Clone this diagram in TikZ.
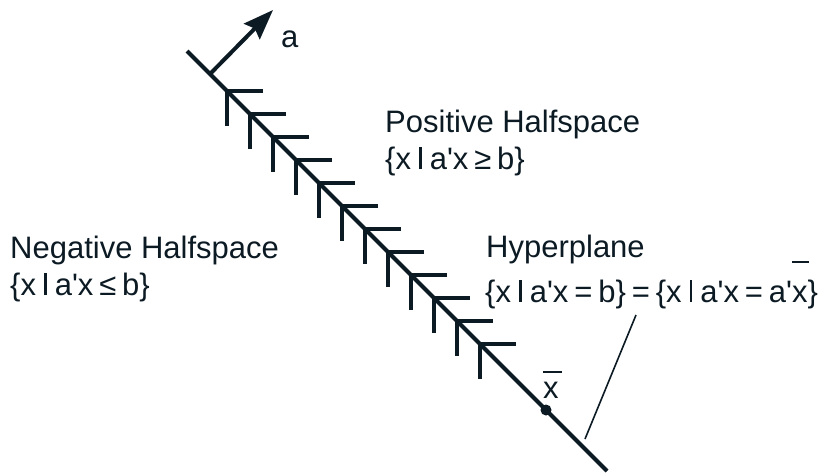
\documentclass[tikz,border=0pt]{standalone}
\usepackage{fontspec}
\setmainfont{Liberation Sans}
\usetikzlibrary{arrows.meta}
\definecolor{ink}{RGB}{12,26,36}
\newcommand\pr{\textquotesingle}
\newcommand\sg{\hspace{0.19em}}
\newcommand\vb{\hspace{0.07em}\rule{0.085em}{0.72em}\hspace{0.07em}}
\newcommand\barhigh{\makebox[0pt][l]{\rule[1.25em]{0.55em}{0.07em}}x}
\begin{document}
\begin{tikzpicture}[x=1pt,y=-1pt,
  lbl/.style={anchor=base west,inner sep=0pt,text=ink,font=\fontsize{31}{37}\selectfont},
  thick line/.style={draw=ink,line width=4pt},
  tick/.style={draw=ink,line width=4pt}]
\useasboundingbox (0,0) rectangle (827,472);
\coordinate (A) at (187,51);
\coordinate (B) at (607,471);
\draw[thick line] (A) -- (B);
% ticks
\foreach \i in {0,...,11}{
  \coordinate (c\i) at ({227+23*\i},{91+23*\i});
  \draw[tick] ([xshift=36pt]c\i) -- (c\i) -- ([yshift=-35pt]c\i);
}
% normal vector a
\coordinate (base) at (210,74);
\coordinate (tip) at (273,10);
\draw[draw=ink,line width=4pt,-{Stealth[length=30pt,width=22pt,inset=4pt]}] (base) -- (tip);
\node[lbl] (alabel) at (281,47) {a};
% labels
\node[lbl] (pos1) at (385,132) {Positive Halfspace};
\node[lbl] (pos2) at (385,169) {\{x\sg\vb\sg a\pr x\sg≥\sg b\}};
\node[lbl] (neg1) at (10,258) {Negative Halfspace};
\node[lbl] (neg2) at (10,295) {\{x\sg\vb\sg a\pr x\sg≤\sg b\}};
\node[lbl] (hyp1) at (486,257) {Hyperplane};
\node[lbl] (hyp2) at (485,302) {\{x\sg\vb\sg a\pr x\sg=\sg b\}\sg=\sg\{x\sg\vb\sg a\pr x\sg=\sg a\pr\barhigh\}};
% point xbar
\coordinate (xb) at (546,410);
\fill[ink] (xb) circle (5.5pt);
\node[lbl] (xblabel) at (543,398) {\makebox[0pt][l]{\rule[0.8em]{0.6em}{0.07em}}x};
% pointer
\coordinate (p1) at (636,315);
\coordinate (p2) at (585,439);
\draw[draw=ink,line width=1.6pt] (p1) -- (p2);
\end{tikzpicture}
\end{document}
